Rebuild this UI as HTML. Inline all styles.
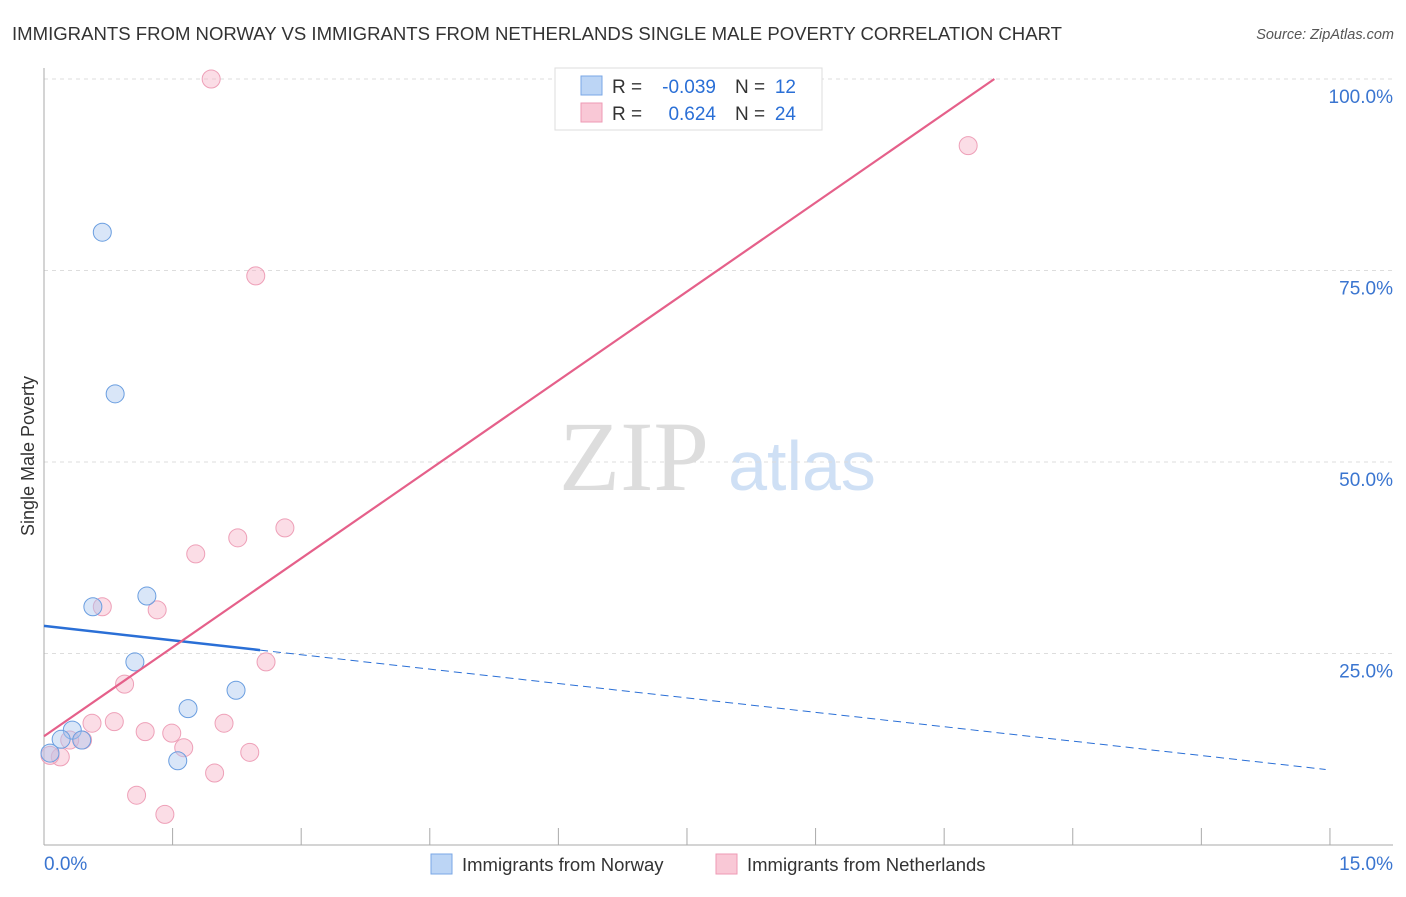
<!DOCTYPE html>
<html><head><meta charset="utf-8"><style>
body{margin:0;background:#fff;font-family:"Liberation Sans",sans-serif}
svg text{font-family:"Liberation Sans",sans-serif}
</style></head><body>
<svg id="c" width="1406" height="892">
<text x="12" y="40" font-size="18" fill="#333" textLength="1050" lengthAdjust="spacingAndGlyphs">IMMIGRANTS FROM NORWAY VS IMMIGRANTS FROM NETHERLANDS SINGLE MALE POVERTY CORRELATION CHART</text>
<text x="1394" y="39" font-size="14.5" fill="#555" font-style="italic" text-anchor="end">Source: ZipAtlas.com</text>
<text x="634" y="490" font-size="100" fill="#ddd" style="font-family:'Liberation Serif',serif" text-anchor="middle">ZIP</text>
<text x="802" y="490" font-size="70" fill="#cfe0f5" text-anchor="middle">atlas</text>
<text transform="translate(34,456) rotate(-90)" font-size="18" fill="#333" text-anchor="middle">Single Male Poverty</text>
<g id="grid"></g><g id="axes"></g><g id="pts"></g><g id="lines"></g>
<g>
<rect x="555" y="68" width="267" height="62" fill="#fff" stroke="#ddd"/>
<rect x="581" y="76" width="21" height="19" fill="#bcd5f5" stroke="#7aa7e6"/>
<rect x="581" y="103" width="21" height="19" fill="#f9c8d6" stroke="#ee9ab4"/>
<text x="612" y="93" font-size="19" fill="#333">R =</text>
<text x="716" y="93" font-size="19" fill="#2a6fd6" text-anchor="end">-0.039</text>
<text x="735" y="93" font-size="19" fill="#333">N =</text>
<text x="796" y="93" font-size="19" fill="#2a6fd6" text-anchor="end">12</text>
<text x="612" y="120" font-size="19" fill="#333">R =</text>
<text x="716" y="120" font-size="19" fill="#2a6fd6" text-anchor="end">0.624</text>
<text x="735" y="120" font-size="19" fill="#333">N =</text>
<text x="796" y="120" font-size="19" fill="#2a6fd6" text-anchor="end">24</text>
</g>
<g>
<rect x="431" y="854" width="21" height="20" fill="#bcd5f5" stroke="#7aa7e6"/>
<text x="462" y="871" font-size="18.5" fill="#333">Immigrants from Norway</text>
<rect x="716" y="854" width="21" height="20" fill="#f9c8d6" stroke="#ee9ab4"/>
<text x="747" y="871" font-size="18.5" fill="#333">Immigrants from Netherlands</text>
</g>
</svg>
<script>
const yTicks=[25,50,75,100];
const yTickLabels=["25.0%","50.0%","75.0%","100.0%"];
const xTickLabels=["0.0%","15.0%"];
const norwayX=[0.68,0.83,0.57,1.20,1.06,1.68,2.24,1.56,0.33,0.20,0.44,0.07];
const norwayY=[80.0,58.9,31.1,32.5,23.9,17.8,20.2,11.0,15.0,13.8,13.7,12.0];
const nethX=[1.95,10.78,2.47,2.81,2.26,1.77,0.68,1.32,2.59,0.94,0.56,0.82,2.10,1.18,1.49,1.63,2.40,1.99,1.08,1.41,0.45,0.19,0.07,0.30];
const nethY=[100,91.3,74.3,41.4,40.1,38.0,31.1,30.7,23.9,21.0,15.9,16.1,15.9,14.8,14.6,12.7,12.1,9.4,6.5,4.0,13.7,11.5,11.7,13.7];
const norwayTrend=[28.6,9.8];
const nethTrend=[14.2,7.74];
const X=v=>44+v*85.73, Y=v=>845-v*7.66;
const NS="http://www.w3.org/2000/svg";
function mk(p,t,a){const e=document.createElementNS(NS,t);for(const k in a)e.setAttribute(k,a[k]);document.getElementById(p).appendChild(e);return e;}
yTicks.forEach((t,i)=>{
 const l=mk('grid','line',{x1:44,x2:1393,y1:Y(t),y2:Y(t),stroke:'#ddd','stroke-dasharray':'4,4'});
 
 
 const tx=mk('grid','text',{x:1393,y:Y(t)+24,'font-size':19,fill:'#3a75d0','text-anchor':'end'});
 tx.textContent=yTickLabels[i];
 
 
});
mk('axes','line',{x1:44,x2:44,y1:68,y2:845,stroke:'#aaa'});
mk('axes','line',{x1:44,x2:1393,y1:845,y2:845,stroke:'#aaa'});
for(let i=0;i<=10;i++){const x=X(i*1.5);mk('axes','line',{x1:x,x2:x,y1:828,y2:845,stroke:'#aaa'});}
const a=mk('axes','text',{x:44,y:870,'font-size':19,fill:'#3a75d0'});a.textContent=xTickLabels[0];


const b=mk('axes','text',{x:1393,y:870,'font-size':19,fill:'#3a75d0','text-anchor':'end'});b.textContent=xTickLabels[1];


nethX.forEach((x,i)=>{const c=mk('pts','circle',{cx:X(x),cy:Y(nethY[i]),r:9,fill:'rgba(246,180,200,0.45)',stroke:'#eea0b8'});
 
 });
norwayX.forEach((x,i)=>{const c=mk('pts','circle',{cx:X(x),cy:Y(norwayY[i]),r:9,fill:'rgba(170,200,240,0.45)',stroke:'#6a9ee0'});
 
 });
const nb=v=>norwayTrend[0]+(norwayTrend[1]-norwayTrend[0])*v/15;
let l1=mk('lines','line',{x1:X(0),y1:Y(nb(0)),x2:X(2.52),y2:Y(nb(2.52)),stroke:'#2a6fd6','stroke-width':2.5});


let l2=mk('lines','line',{x1:X(2.52),y1:Y(nb(2.52)),x2:X(14.95),y2:Y(nb(14.95)),stroke:'#2a6fd6','stroke-width':1,'stroke-dasharray':'8,5'});


const xe=(100-nethTrend[0])/nethTrend[1];
let l3=mk('lines','line',{x1:X(0),y1:Y(nethTrend[0]),x2:X(xe),y2:Y(100),stroke:'#e5608a','stroke-width':2.2});


</script>
</body></html>
